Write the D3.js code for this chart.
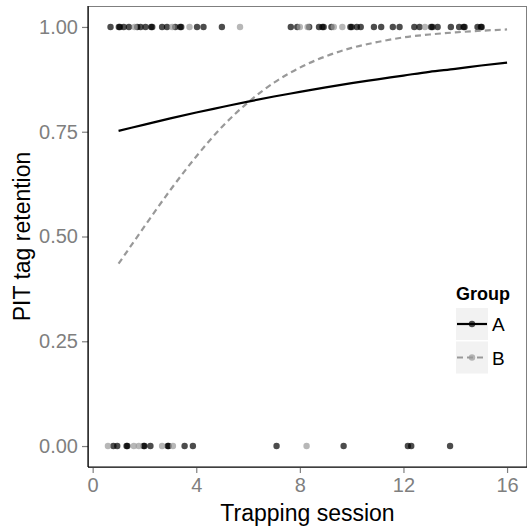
<!DOCTYPE html>
<html>
<head>
<meta charset="utf-8">
<script src="https://cdn.jsdelivr.net/npm/d3@7"></script>
<style>
  body { margin: 0; background: #fff; }
  svg { display: block; font-family: "Liberation Sans", Arial, sans-serif; }
</style>
</head>
<body>
<div id="chart"></div>
<script>
var w = 528, h = 527;
var m = {left: 88, right: 1, top: 6, bottom: 60};

// fitted retention curves, read at each session
var sessions = [1, 2, 3, 4, 5, 6, 7, 8, 9, 10, 11, 12, 13, 14, 15, 16];
var fitA = [0.752, 0.767, 0.782, 0.796, 0.809, 0.822, 0.834, 0.845, 0.856, 0.866, 0.875, 0.884, 0.893, 0.900, 0.908, 0.915];
var fitB = [0.435, 0.524, 0.611, 0.691, 0.762, 0.820, 0.867, 0.903, 0.930, 0.950, 0.964, 0.975, 0.982, 0.987, 0.991, 0.994];

// observed tags (session), retained = 1, lost = 0
var keptA = [0.69, 1.01, 1.05, 1.20, 1.40, 1.72, 1.85, 2.04, 2.26, 2.30, 2.68, 2.87, 3.19, 3.38, 3.42, 4.03, 4.28, 4.99,
             7.65, 7.90, 8.36, 8.74, 8.87, 8.92, 9.22, 9.95, 10.0, 10.20, 10.35, 10.86, 11.14, 11.59, 11.85,
             12.42, 12.62, 13.07, 13.12, 13.32, 13.83, 14.15, 14.32, 14.36, 14.86, 14.99, 15.02];
var keptB = [1.62, 3.07, 3.74, 5.69, 8.00, 8.30, 9.31, 9.64, 12.83];
var lostA = [0.80, 0.95, 1.31, 1.34, 1.97, 2.00, 2.23, 2.90, 2.93, 3.55, 3.87, 7.10, 9.69, 12.17, 12.30, 13.80];
var lostB = [0.59, 1.59, 1.78, 2.68, 3.10, 8.26];

var xTicks = [0, 4, 8, 12, 16];
var yTicks = [0, 0.25, 0.5, 0.75, 1];
var groups = ["A", "B"];
var colA = "#000", colB = "#999";

var x = d3.scaleLinear().domain([-0.18, 16.77]).range([m.left, w - m.right]);
var y = d3.scaleLinear().domain([-0.05, 1.05]).range([h - m.bottom, m.top]);

var svg = d3.select("#chart").append("svg")
    .attr("width", w)
    .attr("height", h);

// panel border
svg.append("rect")
    .attr("x", m.left + 0.5)
    .attr("y", m.top + 0.5)
    .attr("width", w - m.right - m.left - 1)
    .attr("height", h - m.bottom - m.top)
    .attr("fill", "none")
    .attr("stroke", "#7f7f7f")
    .attr("stroke-width", 1);

// points
var pts = [];
keptA.forEach(function(s) { pts.push({s: s, v: 1, g: "A"}); });
keptB.forEach(function(s) { pts.push({s: s, v: 1, g: "B"}); });
lostA.forEach(function(s) { pts.push({s: s, v: 0, g: "A"}); });
lostB.forEach(function(s) { pts.push({s: s, v: 0, g: "B"}); });

svg.append("g").selectAll("circle")
    .data(pts)
  .enter().append("circle")
    .attr("cx", function(d) { return x(d.s); })
    .attr("cy", function(d) { return y(d.v); })
    .attr("r", 3.2)
    .attr("fill", function(d) { return d.g == "A" ? colA : colB; })
    .attr("fill-opacity", 0.7);

// fitted lines
var line = d3.line()
    .x(function(d) { return x(d[0]); })
    .y(function(d) { return y(d[1]); })
    .curve(d3.curveMonotoneX);

svg.append("path")
    .attr("d", line(d3.zip(sessions, fitB)))
    .attr("fill", "none")
    .attr("stroke", colB)
    .attr("stroke-width", 2.2)
    .attr("stroke-dasharray", "6,4");

svg.append("path")
    .attr("d", line(d3.zip(sessions, fitA)))
    .attr("fill", "none")
    .attr("stroke", colA)
    .attr("stroke-width", 2.2);

// axes
var xAxis = svg.append("g")
    .attr("transform", "translate(0," + (h - m.bottom) + ")")
    .call(d3.axisBottom(x).tickValues(xTicks).tickSize(6).tickPadding(5).tickFormat(d3.format("d")));
var yAxis = svg.append("g")
    .attr("transform", "translate(" + m.left + ",0)")
    .call(d3.axisLeft(y).tickValues(yTicks).tickSize(6).tickPadding(4).tickFormat(d3.format(".2f")));

[xAxis, yAxis].forEach(function(a) {
  a.select(".domain").remove();
  a.selectAll(".tick line").attr("stroke", "#7f7f7f").attr("stroke-width", 1.2);
  a.selectAll(".tick text").attr("fill", "#7f7f7f").attr("font-size", 20).attr("font-family", null);
});

svg.append("line")
    .attr("x1", m.left).attr("x2", m.left)
    .attr("y1", m.top).attr("y2", h - m.bottom)
    .attr("stroke", "#000").attr("stroke-width", 1.2);
svg.append("line")
    .attr("x1", m.left).attr("x2", w - m.right)
    .attr("y1", h - m.bottom).attr("y2", h - m.bottom)
    .attr("stroke", "#000").attr("stroke-width", 1.2);

// axis titles
svg.append("text")
    .attr("x", (m.left + w - m.right) / 2)
    .attr("y", 521)
    .attr("text-anchor", "middle")
    .attr("font-size", 23)
    .text("Trapping session");

svg.append("text")
    .attr("transform", "translate(30," + (m.top + h - m.bottom) / 2 + ")rotate(-90)")
    .attr("text-anchor", "middle")
    .attr("font-size", 23)
    .text("PIT tag retention");

// legend
var lg = svg.append("g").attr("transform", "translate(456,279)");
lg.append("text")
    .attr("x", 0).attr("y", 21)
    .attr("font-size", 18)
    .attr("font-weight", "bold")
    .text("Group");

var key = lg.selectAll("g.key")
    .data(groups)
  .enter().append("g")
    .attr("class", "key")
    .attr("transform", function(d, i) { return "translate(0," + (29 + i * 33.5) + ")"; });

key.append("rect")
    .attr("width", 32).attr("height", 32)
    .attr("fill", "#f2f2f2");
key.append("line")
    .attr("x1", 1).attr("x2", 31)
    .attr("y1", 16).attr("y2", 16)
    .attr("stroke", function(d) { return d == "A" ? colA : colB; })
    .attr("stroke-width", 2.2)
    .attr("stroke-dasharray", function(d) { return d == "A" ? null : "6,4"; });
key.append("circle")
    .attr("cx", 16).attr("cy", 16).attr("r", 3.2)
    .attr("fill", function(d) { return d == "A" ? colA : colB; })
    .attr("fill-opacity", 0.7);
key.append("text")
    .attr("x", 36).attr("y", 23)
    .attr("font-size", 19)
    .text(function(d) { return d; });
</script>
</body>
</html>
